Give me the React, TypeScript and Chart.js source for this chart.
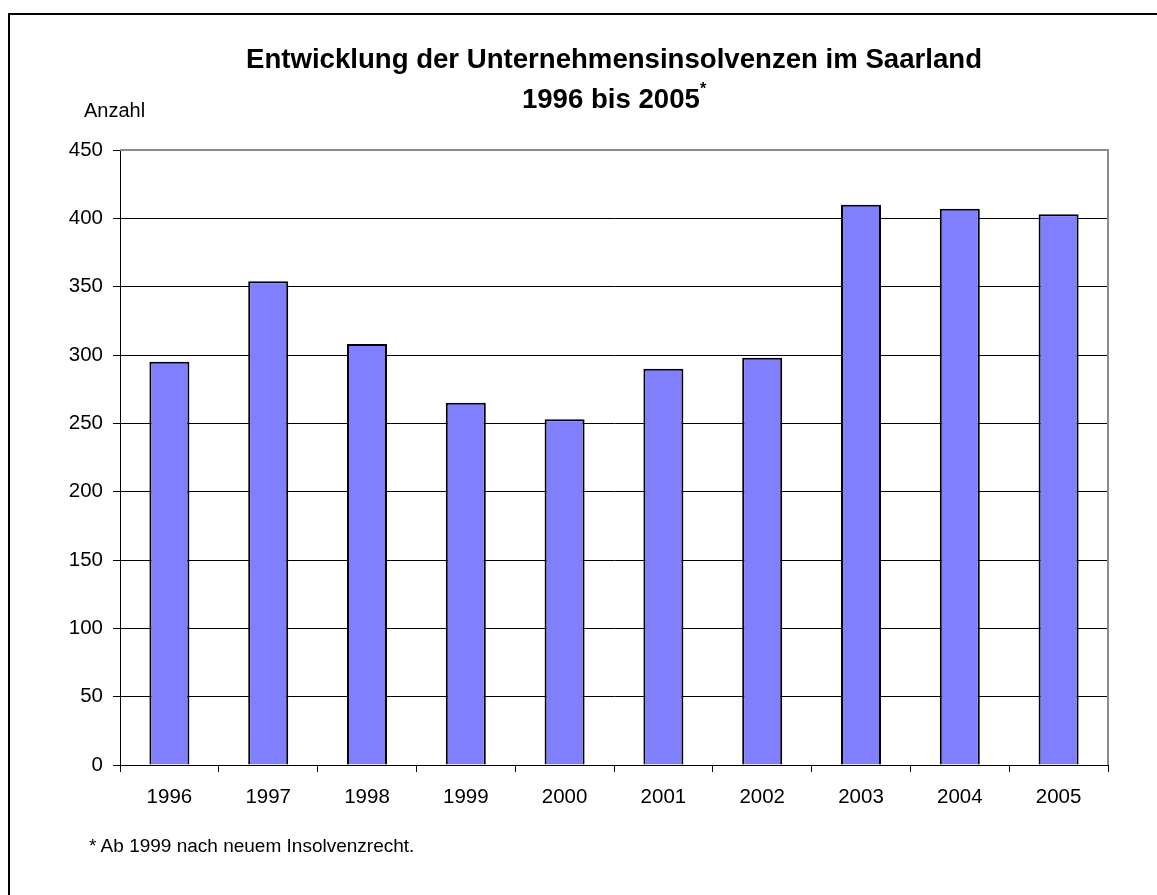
import React, { useEffect, useRef } from "react";
import { Chart, registerables } from "chart.js";

Chart.register(...registerables);

const years = ["1996", "1997", "1998", "1999", "2000", "2001", "2002", "2003", "2004", "2005"];
const insolvencies = [295, 354, 308, 265, 253, 290, 298, 410, 407, 403];
const yTicks = [0, 50, 100, 150, 200, 250, 300, 350, 400, 450];

const titleLine1 = "Entwicklung der Unternehmensinsolvenzen im Saarland";
const titleLine2 = "1996 bis 2005";
const yAxisLabel = "Anzahl";
const footnote = "* Ab 1999 nach neuem Insolvenzrecht.";

const FONT = "'Liberation Sans', Arial, sans-serif";

const plotFrame = {
  id: "plotFrame",
  beforeDatasetsDraw(chart: any) {
    const { ctx, chartArea } = chart;
    ctx.save();
    ctx.strokeStyle = "#8c8c8c";
    ctx.lineWidth = 2;
    ctx.beginPath();
    ctx.moveTo(chartArea.left, chartArea.top);
    ctx.lineTo(chartArea.right, chartArea.top);
    ctx.lineTo(chartArea.right, chartArea.bottom);
    ctx.stroke();
    ctx.restore();
  },
};

export default function App() {
  const ref = useRef<HTMLCanvasElement | null>(null);

  useEffect(() => {
    if (!ref.current) return;
    const chart = new Chart(ref.current, {
      type: "bar",
      data: {
        labels: years,
        datasets: [
          {
            data: insolvencies,
            backgroundColor: "#8080FF",
            borderColor: "#000000",
            borderWidth: 2,
            barPercentage: 0.405,
            categoryPercentage: 1,
          },
        ],
      },
      options: {
        animation: false,
        responsive: false,
        maintainAspectRatio: false,
        layout: { padding: { left: 0, top: 150, right: 49, bottom: 70 } },
        plugins: {
          legend: { display: false },
          title: { display: false },
          tooltip: { enabled: false },
        },
        scales: {
          x: {
            grid: {
              display: true,
              offset: true,
              drawOnChartArea: false,
              drawTicks: true,
              tickLength: 7,
              tickColor: "#000",
              color: "#000",
            },
            border: { display: true, color: "#000", width: 1 },
            ticks: {
              color: "#000",
              font: { family: FONT, size: 20.5 },
              padding: 13,
              maxRotation: 0,
            },
            afterFit(scale: any) {
              scale.height = 60;
            },
          },
          y: {
            min: 0,
            max: 450,
            afterBuildTicks(scale: any) {
              scale.ticks = yTicks.map((v) => ({ value: v }));
            },
            grid: {
              color: (c: any) => (c.tick && c.tick.value === 450 ? "rgba(0,0,0,0)" : "#000"),
              lineWidth: 1,
              tickLength: 7,
              tickColor: "#000",
            },
            border: { display: true, color: "#000", width: 1 },
            ticks: {
              color: "#000",
              font: { family: FONT, size: 20.5 },
              padding: 10,
            },
            afterFit(scale: any) {
              scale.width = 120;
            },
          },
        },
      },
      plugins: [plotFrame],
    });
    return () => chart.destroy();
  }, []);

  return (
    <div
      style={{
        position: "absolute",
        left: 0,
        top: 0,
        width: 1157,
        height: 895,
        overflow: "hidden",
        background: "#fff",
      }}
    >
      <div
        style={{
          position: "absolute",
          left: 8,
          top: 13,
          width: 1300,
          height: 1000,
          border: "2px solid #000",
          boxSizing: "border-box",
        }}
      />
      <canvas
        ref={ref}
        width={1157}
        height={895}
        style={{ position: "absolute", left: 0, top: 0, width: 1157, height: 895 }}
      />
      <div
        style={{
          position: "absolute",
          left: 120,
          width: 988,
          top: 39,
          textAlign: "center",
          fontFamily: FONT,
          fontWeight: "bold",
          fontSize: 27.6,
          lineHeight: "40px",
          color: "#000",
        }}
      >
        <div>{titleLine1}</div>
        <div>
          {titleLine2}
          <span style={{ fontSize: 16, position: "relative", top: -14 }}>*</span>
        </div>
      </div>
      <div
        style={{
          position: "absolute",
          left: 84,
          top: 100,
          fontFamily: FONT,
          fontSize: 20,
          lineHeight: 1,
          color: "#000",
          whiteSpace: "nowrap",
        }}
      >
        {yAxisLabel}
      </div>
      <div
        style={{
          position: "absolute",
          left: 89,
          top: 836,
          fontFamily: FONT,
          fontSize: 19,
          lineHeight: 1,
          color: "#000",
          whiteSpace: "nowrap",
        }}
      >
        {footnote}
      </div>
    </div>
  );
}
